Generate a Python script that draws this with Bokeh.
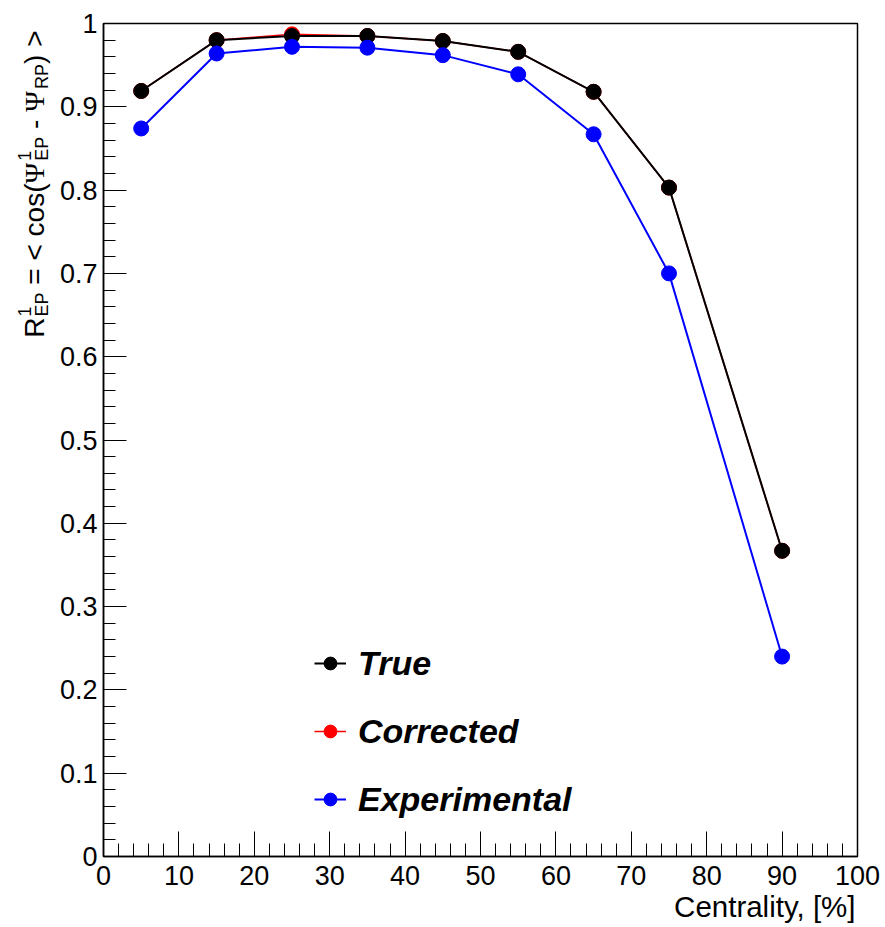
import math
from bokeh.plotting import figure
from bokeh.layouts import row
from bokeh.models import Range1d, FixedTicker, CustomJSTickFormatter, Label, Legend, LegendItem, Title
from bokeh.embed import file_html
from bokeh.resources import INLINE

# ---- data ----
centrality = [5, 15, 25, 35, 45, 55, 65, 75, 90]
r_true = [0.919, 0.980, 0.985, 0.985, 0.979, 0.966, 0.918, 0.803, 0.367]
r_corrected = [0.919, 0.980, 0.987, 0.985, 0.979, 0.966, 0.918, 0.803, 0.367]
r_experimental = [0.874, 0.964, 0.972, 0.971, 0.962, 0.939, 0.867, 0.700, 0.240]
series_names = ["True", "Corrected", "Experimental"]
series_colors = ["black", "red", "blue"]
x_ticks = [0, 10, 20, 30, 40, 50, 60, 70, 80, 90, 100]
y_ticks = [0, 0.1, 0.2, 0.3, 0.4, 0.5, 0.6, 0.7, 0.8, 0.9, 1.0]
x_title = "Centrality, [%]"

FONT = "Liberation Sans"
SERIF = "Liberation Serif"
H = 927
YT_W = 56
TOP, BOTTOM = 23, 71

p = figure(width=885 - YT_W, height=H, x_range=Range1d(0, 100), y_range=Range1d(0, 1),
           min_border_left=102 - YT_W, min_border_right=28, min_border_top=TOP,
           min_border_bottom=BOTTOM, toolbar_location=None, output_backend="svg")
p.background_fill_color = "white"
p.border_fill_color = "white"
p.outline_line_color = "black"
p.outline_line_width = 1.5
p.xgrid.visible = False
p.ygrid.visible = False

# axes
p.xaxis.ticker = FixedTicker(ticks=x_ticks, minor_ticks=[2 * i for i in range(51)])
p.yaxis.ticker = FixedTicker(ticks=y_ticks, minor_ticks=[i / 50 for i in range(51)])
p.yaxis.formatter = CustomJSTickFormatter(code="return (Math.round(tick*10)/10).toString();")
for ax in (p.xaxis[0], p.yaxis[0]):
    ax.axis_line_color = "black"
    ax.axis_line_width = 1.5
    ax.major_tick_out = 0
    ax.minor_tick_out = 0
    ax.major_tick_line_color = "black"
    ax.minor_tick_line_color = "black"
    ax.major_label_text_font = FONT
    ax.major_label_text_font_size = "27px"
    ax.major_label_text_color = "black"
p.xaxis.major_label_standoff = 9
p.yaxis.major_label_standoff = 6
p.xaxis.major_tick_in = 25
p.xaxis.minor_tick_in = 13
p.yaxis.major_tick_in = 23
p.yaxis.minor_tick_in = 12

# x-axis title (right aligned under the axis)
p.add_layout(Title(text=x_title, align="right", offset=2, standoff=0,
                   text_font=FONT, text_font_size="29.5px", text_font_style="normal",
                   text_color="black"), "below")

# series (corrected first so True covers it)
order = [1, 0, 2]
series_vals = [r_true, r_corrected, r_experimental]
widths = [2, 1.5, 2]
rends = {}
for i in order:
    l = p.line(centrality, series_vals[i], line_color=series_colors[i], line_width=widths[i])
    s = p.scatter(centrality, series_vals[i], size=15, fill_color=series_colors[i],
                  line_color=series_colors[i])
    rends[i] = [l, s]

legend = Legend(items=[LegendItem(label=series_names[i], renderers=rends[i]) for i in range(3)],
                location=(211, 23), orientation="vertical", glyph_width=32, glyph_height=68,
                spacing=0, padding=0, margin=0, label_standoff=12,
                label_text_font=FONT, label_text_font_style="bold italic",
                label_text_font_size="34px", label_text_color="black",
                border_line_alpha=0, background_fill_alpha=0)
p.add_layout(legend)

# ---- y-axis title in a narrow side figure, built from pieces (rotated) ----
q = figure(width=YT_W, height=H, x_range=Range1d(0, 1), y_range=Range1d(0, 1),
           min_border_left=0, min_border_right=0, min_border_top=TOP,
           min_border_bottom=BOTTOM, toolbar_location=None, output_backend="svg",
           x_axis_type=None, y_axis_type=None)
q.outline_line_color = None
q.background_fill_color = "white"
q.border_fill_color = "white"

F = 28.0
S = 18.0
W = {"R": .722, "E": .667, "P": .667, " ": .278, "=": .584, "<": .584, ">": .584,
     "c": .5, "o": .556, "s": .5, "(": .333, ")": .333, "-": .333, "1": .556, "Ψ": .78}

def tw(t, size):
    return sum(W.get(ch, .556) for ch in t) * size

pieces = [
    ("main", "R", FONT), ("supsub", ("1", "EP"), FONT), ("gap", " ", FONT),
    ("main", "= <", FONT), ("gap", " ", FONT), ("main", "cos(", FONT),
    ("main", "Ψ", SERIF), ("supsub", ("1", "EP"), FONT), ("gap", " ", FONT),
    ("main", "-", FONT), ("gap", " ", FONT), ("main", "Ψ", SERIF),
    ("supsub", (None, "RP"), FONT), ("main", ") >", FONT),
]

def adv(kind, t):
    if kind in ("main", "gap"):
        return tw(t, F)
    return max(tw(t[0] or "", S), tw(t[1], S)) + 1

total = sum(adv(k, t) for k, t, f in pieces)
base_x = 34
frame_bottom = H - BOTTOM
end_y = frame_bottom - 30          # text ends 30px from top of canvas
pos = end_y - total

def rot_label(x, y, text, size, font):
    q.add_layout(Label(x=x, y=y, x_units="screen", y_units="screen", text=text,
                       angle=math.pi / 2, angle_units="rad", text_font=font,
                       text_font_size=f"{size}px", text_align="left",
                       text_baseline="alphabetic", text_color="black"))

for kind, t, f in pieces:
    if kind == "main":
        rot_label(base_x, pos, t, F, f)
    elif kind == "supsub":
        sup, sub = t
        if sup:
            rot_label(base_x - 10, pos + 1, sup, S, f)
        rot_label(base_x + 7, pos + 1, sub, S, f)
    pos += adv(kind, t)

layout = row(q, p, spacing=0)
open("out.html", "w").write(file_html(layout, INLINE))
